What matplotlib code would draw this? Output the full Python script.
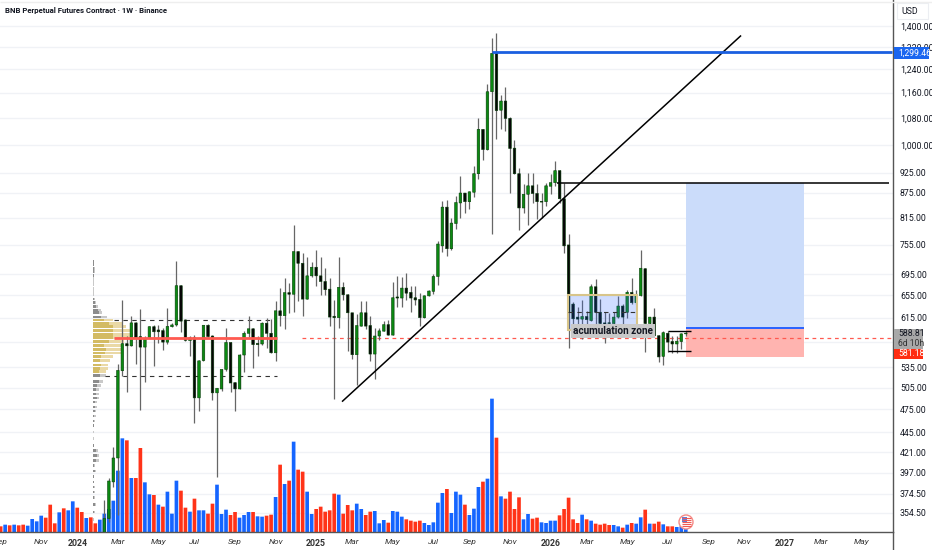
import numpy as np
import pandas as pd
import matplotlib
matplotlib.use('Agg')
import matplotlib.pyplot as plt
import matplotlib.dates as mdates
from matplotlib.patches import Rectangle, Circle

plt.rcParams['font.family'] = ['Liberation Sans Narrow', 'Roboto', 'DejaVu Sans']

# weekly candles
opens = [320,349,387,414,529.5,571.5,568,606,583,566,581,599.5,594,593,574,599.5,602.5,673,611,576.5,581,490.5,545,602,584,497.5,503,531.5,573.5,512,503,553.5,588.5,596,572,571,605.5,588.5,557,627,618.5,660,657,741,717,648,692,709,
         692,681,666.5,617.5,615,670,656,623.5,554,600.5,623.5,601.5,555,584,592,603,585.5,652,650,668.5,660.5,650.5,647.5,615,654,662.5,690.7,
         753,840,747,802,850,874,853,876,923,1046,988,1163,1296,1104,1133,1079,992,923,838,871,892,873,854,853,891,900,931,860,755,
         639,616,612.5,617,610,671,624.5,606,606,605,616,635.5,624.5,660.5,641.5,654.5,706,605,616,584.5,551.5,588.5,575,571,575,587.5]
highs = [368,391,427,539.5,646,584,617.5,607,631,584,600.5,603,603,597.5,632,606,722,675,612,584,585,545.5,603,604.5,585,505,532.5,597.5,574.5,513,555,592.5,618.5,596.5,584,607,615,612,644.5,668.5,687.5,678,799,743,737.6,729,719,744.5,
         729,707,687.5,646,729,680,657,624,622,644,644,617.5,597.5,597.5,610,611,679.5,692,690.7,697,671.5,673,659,656,664,696,764,
         854,858,815,867,917,875,880,943,1079,1048,1190,1355,1374,1151,1178,1082,1014,937,897,925,925,897,875,900,921,958,932,900,778,
         643,634.5,646,627.5,676,686,649,625.5,623,625.5,653,640,664,688,664,744.5,708,617,631.5,586,592,592,584.5,584.5,589.5,592]
lows = [310,345.5,381.5,352.5,522,498.5,567,539.5,474.5,513.5,580,536,573,561.5,570.5,599,600.5,590.5,576,552.5,457.5,472.5,544.5,582,488,392,499.5,529.5,498.5,472.5,502.5,527,583,534,552.5,570,564.5,556.5,544.5,600.5,595,623.5,624.5,645,617.5,647.5,689.5,673,
        656,656,600.5,488.5,596.5,647,560,547,508,600,595,544.5,517.5,577,591.5,585,585,634,633,647,625,638,600.5,614.5,653,658,674,
        740,731,745,789,815,826,836,865,910,959,987,778,1019,1048,1040,875,922,787,826,798,850,813,815,842,871,892,850,739,564.5,
        595,587,579,595,609,597.5,589.5,573,584.5,599,614.5,595,614.5,640,640,653,558,604.5,583.5,542,538,558,557,557,563.5,584.5]
closes = [349,388,414,530,571.5,568,606,581,566,580,599.5,591,591,574,600,602.5,673,609,577,581,490.5,544.5,602,583,497.5,504,531.5,573.5,511.5,503,553.5,588.5,596,570,570,605.5,588.5,557,627,618.5,660,657,741,717,648,692,709,692,
          681,665.5,616,615,670,656,623.5,554,601.5,623.5,600.5,555,584,592.5,603,585.5,650.5,650,668.5,659,650,646.5,615,654,663,690.7,757,
          840,747,803,851,874,853,877,923,1046,988,1163,1296,1103,1133,1079,991,923,838,871,892,873,853,852,892,900,931,860,753,625,
          613,612.5,617,611.5,671,624.5,605,603,605,616,635.5,616,660.5,641.5,654.5,707,605,616,584.5,550.5,589.5,574,571,575.5,587.5,588.81]

# volume, relative units, and bar colour (b = up week, r = down week)
volumes = [17,22,20,22,20,22,19,39,32,49,43,82,26,59,71,65,92,73,60,42,
           44,26,37,55,69,94,184,281,275,162,162,252,149,113,111,82,76,121,55,154,
           124,73,61,100,65,65,55,85,142,54,67,51,60,43,51,60,60,47,46,49,
           52,105,202,144,154,271,187,181,121,54,69,76,
           61,65,115,112,55,81,65,85,69,51,61,63,26,36,28,63,61,46,38,34,
           31,34,27,21,29,88,117,129,57,121,112,82,51,70,135,151,160,400,283,107,
           100,121,69,104,38,54,40,43,29,27,34,34,50,69,103,38,27,52,38,34,
           25,22,25,21,21,17,13,22,27,25,44,67,25,25,31,23,17,17,15,17,9]
vol_dirs = ('rbrbrrbbbb' 'rrrbrbbrrb' 'rrbbbbbbrb' 'rrbbrbrbbb' 'rrbrbbrrbb' 'brrbbbrbbr' 'rbrbrbrrbb' 'rr'
            'rrrbrrrbbr' 'rbbbrbbbrr' 'rrbbbbbrbb' 'brbbbrbbrb' 'rrrrbbrrbb' 'bbrrrrrbrb' 'rrrrbbrbrb' 'brbrrbrrbbb')

# volume profile on the left
vp_prices = [721,714,707,700,693,687,681,675,668,662,656,648,642,635,628,623.5,616,611,605,599.5,593,587,581.5,575,569,562.5,556.5,551.5,545,538,533,528,
             522,514,508,502.5,496,490.5,485,478,472.5,466,459.5,453.5,445.6,437.5,429,423,417,411,405,399,393,387,381.5,376,370,363,355.5,348]
vp_total = [5,5,8,8,4,3,3,3,3,3,3,8,10,17,24,28,42,62,90,100,115,120,115,95,85,84,84,60,52,45,45,40,
            40,32,26,18,18,20,12,12,10,9,7,5,3,3,4,15,20,18,8,10,5,5,8,8,6,10,8,3]
vp_dark = [3,3,5,5,3,2,2,2,2,2,2,4,6,10,15,18,24,35,48,60,60,60,62,50,34,40,36,26,22,24,22,18,
           22,18,14,10,10,12,8,8,6,5,4,3,2,2,3,9,12,11,5,6,3,3,5,5,4,6,5,2]
va_high = 611
va_low = 522
poc_price = 581

price_ticks = [1400,1320,1240,1160,1080,1000,925,875,815,755,695,655,615,575,535,505,475,445,421,397,374.5,354.5]
price_labels = ['1,400.00','1,320.00','1,240.00','1,160.00','1,080.00','1,000.00','925.00','875.00','815.00','755.00','695.00','655.00','615.00','','535.00','505.00','475.00','445.00','421.00','397.00','374.50','354.50']

time_ticks = ['2023-09-04','2023-11-06','2024-01-01','2024-03-04','2024-05-06','2024-07-01','2024-09-02','2024-11-04','2025-01-06','2025-03-03','2025-05-05','2025-07-07','2025-09-01','2025-11-03','2026-01-05','2026-03-02','2026-05-04','2026-07-06','2026-09-07','2026-11-02','2027-01-04','2027-03-01','2027-05-03']
time_labels = ['Sep','Nov','2024','Mar','May','Jul','Sep','Nov','2025','Mar','May','Jul','Sep','Nov','2026','Mar','May','Jul','Sep','Nov','2027','Mar','May']

last_close = 581.18
swing_high = 1299.46
resistance = 898
entry = 597
target = 898
stop = 550.5

def num(d):
    return mdates.date2num(pd.Timestamp(d))

candle_x = mdates.date2num(pd.date_range(end='2026-08-03', periods=len(opens), freq='7D'))
vol_x = mdates.date2num(pd.date_range(end='2026-08-03', periods=len(volumes), freq='7D'))
o, h, l, c = map(np.array, (opens, highs, lows, closes))

fig = plt.figure(figsize=(9.32, 5.5), dpi=100, facecolor='white')
ax = fig.add_axes([0, 18/550, 893/932, 532/550])
ax.set_yscale('log')
ax.set_axisbelow(True)
ax.grid(axis='y', color='#f0f2f6', lw=1)

# volume uses axes-fraction heights, 1596 units = full height
vcolors = ['#1565ff' if d == 'b' else '#ff3318' for d in vol_dirs]
ax.bar(vol_x, np.array(volumes)/1596, width=5.7, bottom=0, color=vcolors, edgecolor='none',
       transform=ax.get_xaxis_transform(), zorder=2, snap=False)

# volume profile
vp_left = num('2024-01-25')
vp_scale = 1/3/0.6439
for p, t, d in zip(vp_prices, vp_total, vp_dark):
    inside = va_low < p <= va_high
    ax.barh(p, t*vp_scale, left=vp_left, height=p*0.0075, color='#ead9a6' if inside else '#c9c9c9', zorder=2.5)
    ax.barh(p, d*vp_scale, left=vp_left, height=p*0.0075, color='#d3bb63' if inside else '#8c8c8c', zorder=2.6)

ax.hlines(va_high, num('2024-02-27'), num('2024-10-26'), color='#333333', lw=0.8, linestyles=(0, (4, 4)), zorder=2.8)
ax.hlines(va_low, num('2024-02-13'), num('2024-11-06'), color='#333333', lw=0.8, linestyles=(0, (4, 4)), zorder=2.8)
ax.hlines(last_close, num('2024-12-15'), num('2027-06-20'), color='#ff5a50', lw=0.9, linestyles=(0, (3, 3)), zorder=2.8)

# long position tool
ax.add_patch(Rectangle((num('2026-08-03'), entry), num('2027-02-03')-num('2026-08-03'), target-entry, fc='#cbdcfa', ec='none', zorder=1.5))
ax.add_patch(Rectangle((num('2026-08-03'), stop), num('2027-02-03')-num('2026-08-03'), entry-stop, fc='#ffb4b0', ec='none', zorder=1.5))
ax.hlines(entry, num('2026-08-03'), num('2027-02-03'), color='#2962ff', lw=1.4, zorder=2.9)

# candles
ccolors = ['#0b8a12' if cl >= op else '#050505' for op, cl in zip(o, c)]
ax.vlines(candle_x, l, h, color='#666666', lw=0.9, zorder=3)
ax.bar(candle_x, np.maximum(np.abs(c-o), c*0.002), bottom=np.minimum(o, c), width=4.0, color=ccolors,
       edgecolor='#063d08', linewidth=0.4, zorder=4, snap=False)

# POC line
ax.hlines(poc_price, num('2024-02-27'), num('2024-11-06'), color='#ff5a50', lw=2, zorder=5)

# drawings
ax.plot([num('2025-02-16'), num('2026-10-27')], [486, 1361], color='black', lw=1.1, zorder=5)
ax.hlines(resistance, num('2026-01-15'), num('2027-06-14'), color='black', lw=1.1, zorder=5)
ax.hlines(swing_high, num('2025-10-06'), num('2027-06-20'), color='#1a5fe0', lw=2, zorder=5)
ax.hlines([592.8, 560], num('2026-07-06'), num('2026-08-11'), color='black', lw=1.0, zorder=5)
ax.add_patch(Rectangle((num('2026-02-01'), 594), num('2026-05-19')-num('2026-02-01'), 655.5-594,
                       fc=(0.16, 0.40, 1.0, 0.22), ec='#d8c58a', lw=1.5, zorder=6))
ax.hlines(625, num('2026-02-01'), num('2026-05-19'), color='#333333', lw=0.8, linestyles=(0, (4, 4)), zorder=6)

# axes
ax.set_xlim(num('2024-01-01')-120, num('2024-01-01')+1266.8)
ax.set_ylim(336, 1506.5)
ax.yaxis.tick_right()
ax.set_yticks(price_ticks)
ax.set_yticklabels(price_labels, fontsize=6.3, color='#131722')
ax.minorticks_off()
ax.set_xticks([num(d) for d in time_ticks])
ax.set_xticklabels(time_labels, fontsize=6.1, color='#333333', style='italic')
for lbl in ax.get_xticklabels():
    if lbl.get_text().isdigit():
        lbl.set_fontstyle('normal')
        lbl.set_fontweight('bold')
        lbl.set_fontsize(6.3)
ax.tick_params(axis='both', length=0)
ax.tick_params(axis='y', pad=5)
ax.tick_params(axis='x', pad=5)
for s in ('top', 'left'):
    ax.spines[s].set_visible(False)
for s in ('right', 'bottom'):
    ax.spines[s].set_color('#555555')
    ax.spines[s].set_linewidth(1)

# labels laid over the chart, in picture pixels
ov = fig.add_axes([0, 0, 1, 1], zorder=10)
ov.set_xlim(0, 932)
ov.set_ylim(550, 0)
ov.axis('off')
ov.hlines(2, 0, 932, color='#eeeeee', lw=1)
ov.vlines(893, 532, 550, color='#555555', lw=1)
ov.text(5, 10.5, 'BNB Perpetual Futures Contract · 1W · Binance', fontsize=5.6, fontweight='bold', color='#131722', va='center')
ov.add_patch(Rectangle((897, 3), 31, 16, fc='white', ec='#eceef2', lw=0.8))
ov.text(901, 11, 'USD', fontsize=6.3, color='#131722', va='center')
ov.add_patch(Rectangle((893.5, 46.5), 35.5, 12.5, fc='#1a66f0', ec='none'))
ov.text(898, 53, '1,299.46', fontsize=6.2, color='white', va='center')
ov.add_patch(Rectangle((893.5, 329), 29, 20, fc='#a8a8a8', ec='none'))
ov.text(898, 334, '588.81', fontsize=6.2, color='#131722', va='center')
ov.text(898, 343.5, '6d 10h', fontsize=6.2, color='#333333', va='center')
ov.add_patch(Rectangle((893.5, 349), 29, 10, fc='#ff2d12', ec='none'))
ov.text(898, 354, '581.18', fontsize=6.2, color='white', va='center')
ov.text(613, 330.5, 'acumulation zone', fontsize=7.2, fontweight='bold', color='#131722', ha='center', va='center',
        bbox=dict(boxstyle='square,pad=0.2', fc='#c9c9c9', ec='none'))

# little flag badge
ov.add_patch(Circle((686, 522), 7, fc='white', ec='#f58a86', lw=1))
ov.add_patch(Rectangle((681.5, 517), 5, 5, fc='#5a7fe0', ec='none'))
ov.hlines([518, 520, 522, 524, 526], 682, 691, color='#f05a55', lw=0.8)

fig.savefig('out.png', dpi=100)
